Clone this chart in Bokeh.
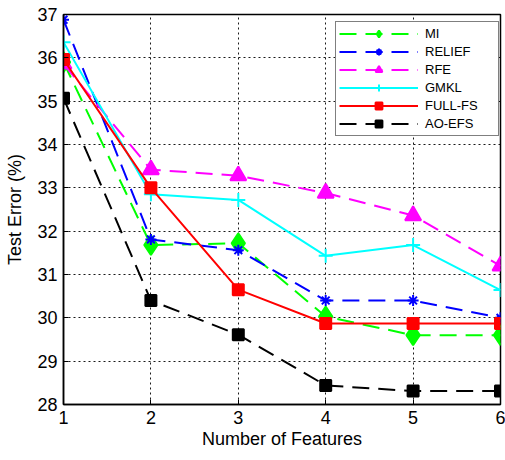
from bokeh.plotting import figure
from bokeh.models import Range1d, FixedTicker, Legend, LegendItem
from bokeh.embed import file_html
from bokeh.resources import INLINE

features = [1, 2, 3, 4, 5, 6]
mi = [35.9, 31.68, 31.72, 30.03, 29.6, 29.6]
relief = [36.88, 31.81, 31.56, 30.4, 30.4, 30.0]
rfe = [35.86, 33.42, 33.28, 32.88, 32.36, 31.2]
gmkl = [36.36, 32.85, 32.72, 31.43, 31.68, 30.64]
full_fs = [35.96, 33.0, 30.65, 29.87, 29.87, 29.87]
ao_efs = [35.07, 30.4, 29.61, 28.44, 28.31, 28.31]

x_ticks = [1, 2, 3, 4, 5, 6]
y_ticks = [28, 29, 30, 31, 32, 33, 34, 35, 36, 37]

FONT = "Liberation Sans"

p = figure(width=505, height=460, output_backend="svg", toolbar_location=None,
           x_range=Range1d(1, 6), y_range=Range1d(28, 37),
           min_border_left=63, min_border_top=14, min_border_right=5, min_border_bottom=56)
p.background_fill_color = "white"
p.border_fill_color = "white"
p.outline_line_color = "black"
p.outline_line_width = 1.5
p.outline_line_alpha = 1

for ax in (p.xaxis[0], p.yaxis[0]):
    ax.axis_line_color = "black"
    ax.axis_line_width = 1.5
    ax.major_tick_in = 5
    ax.major_tick_out = 0
    ax.minor_tick_line_color = None
    ax.major_tick_line_color = "black"
    ax.major_label_text_font = FONT
    ax.major_label_text_font_size = "18px"
    ax.major_label_text_color = "black"
    ax.axis_label_text_font = FONT
    ax.axis_label_text_font_size = "18px"
    ax.axis_label_text_font_style = "normal"
    ax.axis_label_text_color = "black"

p.xaxis.ticker = FixedTicker(ticks=x_ticks)
p.yaxis.ticker = FixedTicker(ticks=y_ticks)
p.xaxis.axis_label = "Number of Features"
p.yaxis.axis_label = "Test Error (%)"
p.xaxis.major_label_standoff = 6
p.xaxis.axis_label_standoff = 2
p.yaxis.major_label_standoff = 6
p.yaxis.axis_label_standoff = 9

for g in (p.xgrid[0], p.ygrid[0]):
    g.grid_line_color = "black"
    g.grid_line_dash = "2 3"
    g.grid_line_width = 1
    g.grid_line_alpha = 0.9
p.xgrid.ticker = FixedTicker(ticks=x_ticks)
p.ygrid.ticker = FixedTicker(ticks=y_ticks)

series = [
    ("MI", mi, "#00FF00", "17 9", "diamond", 20),
    ("RELIEF", relief, "#0000FF", "17 9", "asterisk", 11),
    ("RFE", rfe, "#FF00FF", "17 9", "triangle", 16),
    ("GMKL", gmkl, "#00FFFF", "solid", "cross", 14),
    ("FULL-FS", full_fs, "#FF0000", "solid", "square", 11),
    ("AO-EFS", ao_efs, "#000000", "17 9", "square", 11),
]

items = []
for name, vals, color, dash, marker, size in series:
    r1 = p.line(features, vals, line_color=color, line_width=2, line_dash=dash)
    r2 = p.scatter(features, vals, marker=marker, size=size, fill_color=color,
                   line_color=color, line_width=2)
    items.append(LegendItem(label=name, renderers=[r1, r2]))

legend = Legend(items=items, location=(272, 268))
legend.label_text_font = FONT
legend.label_text_font_size = "13px"
legend.label_text_color = "black"
legend.glyph_width = 79
legend.glyph_height = 17
legend.label_height = 17
legend.label_width = 70
legend.label_standoff = 7
legend.spacing = 1
legend.padding = 3
legend.margin = 0
legend.border_line_color = "black"
legend.border_line_width = 1.5
legend.background_fill_alpha = 1
p.add_layout(legend, "center")

open("out.html", "w").write(file_html(p, INLINE))
